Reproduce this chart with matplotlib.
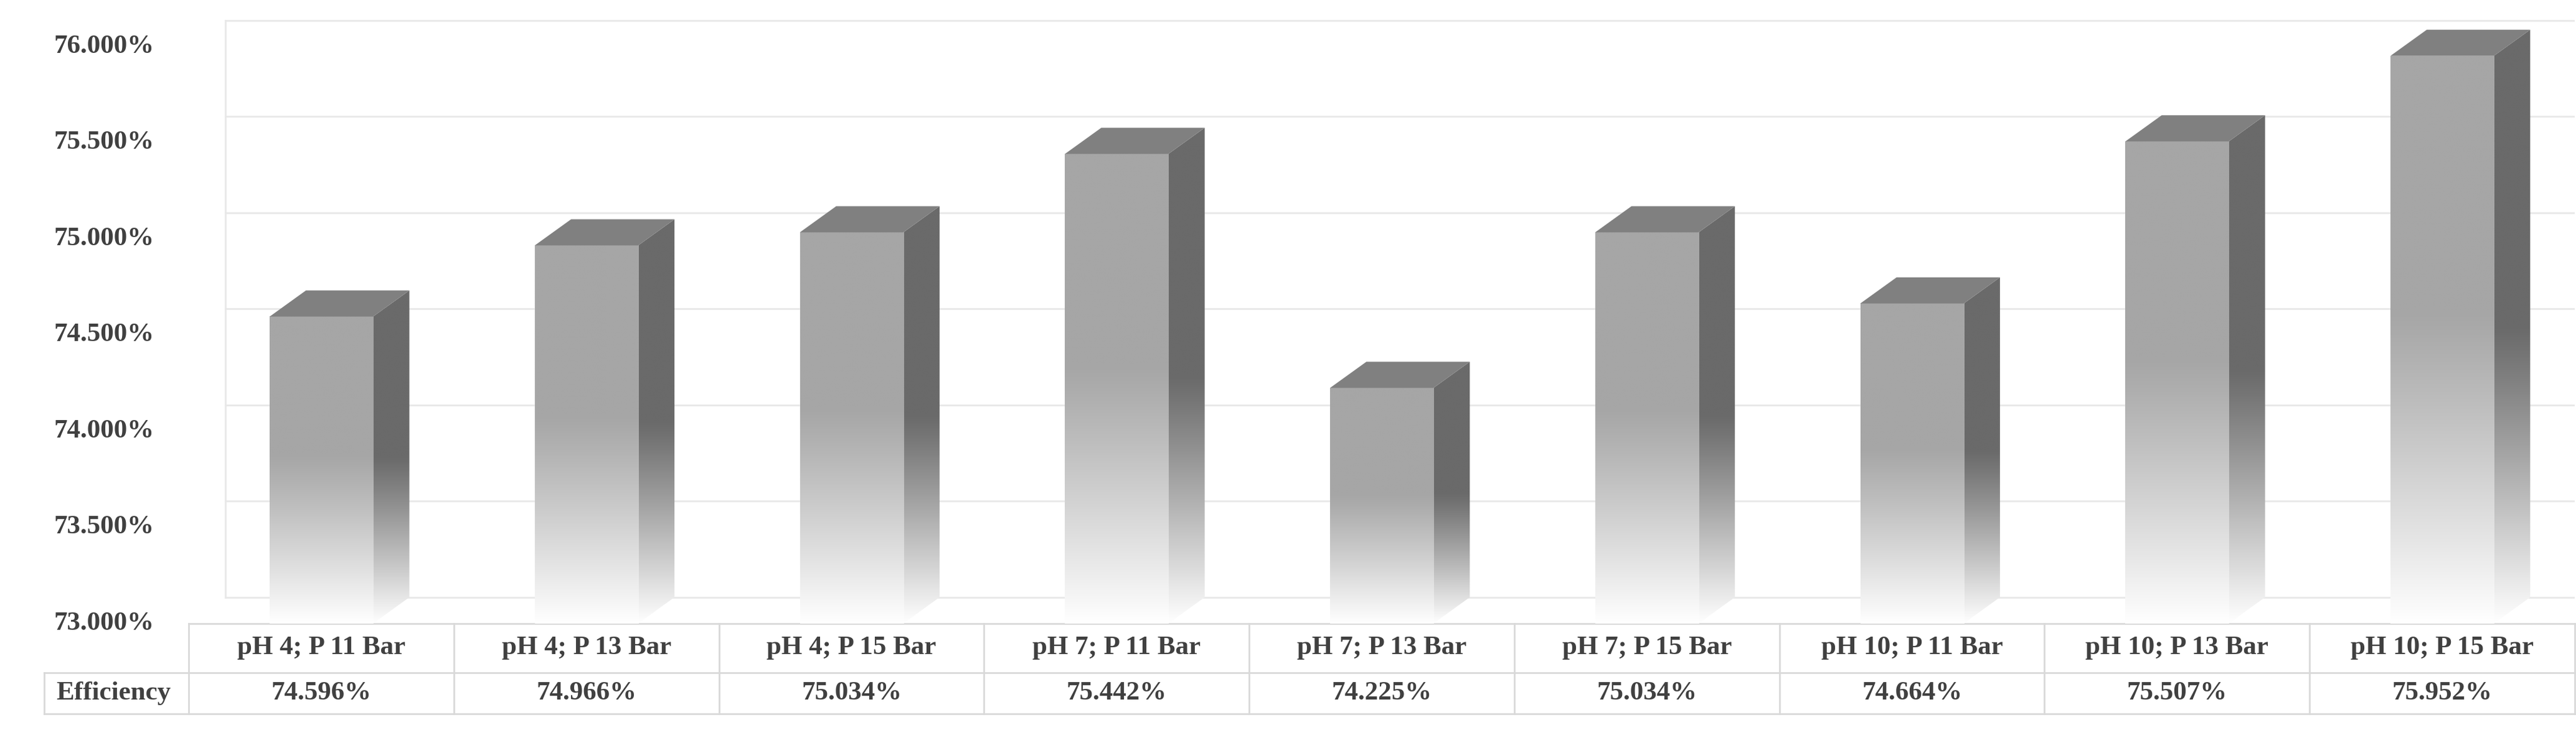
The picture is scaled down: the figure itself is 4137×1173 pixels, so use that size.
import numpy as np
import matplotlib
matplotlib.use("Agg")
import matplotlib.pyplot as plt
from matplotlib.patches import Polygon
import matplotlib.transforms as mtransforms

categories = ["pH 4; P 11 Bar", "pH 4; P 13 Bar", "pH 4; P 15 Bar",
              "pH 7; P 11 Bar", "pH 7; P 13 Bar", "pH 7; P 15 Bar",
              "pH 10; P 11 Bar", "pH 10; P 13 Bar", "pH 10; P 15 Bar"]
efficiency = [74.596, 74.966, 75.034, 75.442, 74.225, 75.034, 74.664, 75.507, 75.952]
yticks = [73.0, 73.5, 74.0, 74.5, 75.0, 75.5, 76.0]
row_label = "Efficiency"

plt.rcParams['font.family'] = ['Liberation Serif', 'DejaVu Serif']
txt = '#404040'
fig = plt.figure(figsize=(41.37, 11.73), dpi=100)
ax = fig.add_axes([0.0733, 0.146, 0.9262, 0.827])
ymin, ymax = 73.0, 76.14
ax.set_xlim(0, 9)
ax.set_ylim(ymin, ymax)
ax.axis('off')

dx, dy = 0.137, 0.136
w = 0.39

# back-wall gridlines
for t in yticks:
    ax.plot([dx, 9], [t + dy, t + dy], color='#e8e8e8', lw=2, zorder=0)
    ax.text(-0.13, t, f"{t:.3f}%", ha='right', va='center', fontsize=31,
            fontweight='bold', color=txt, transform=ax.transData, clip_on=False)
ax.plot([dx, dx], [ymin + dy, ymax], color='#e8e8e8', lw=2, zorder=0)

def grad(c, n=256, flat=0.45):
    c = np.array(matplotlib.colors.to_rgb(c))
    f = np.linspace(0, 1, n)  # 0 top -> 1 bottom
    a = np.clip((f - flat) / (1 - flat), 0, 1) ** 1.1
    rows = c[None, :] * (1 - a[:, None]) + np.ones(3)[None, :] * a[:, None]
    return rows[:, None, :]

for i, v in enumerate(efficiency):
    x0 = i + 0.5 - w / 2
    x1 = x0 + w
    # side face
    side = Polygon([(x1, ymin), (x1 + dx, ymin + dy), (x1 + dx, v + dy), (x1, v)],
                   closed=True, facecolor='none', edgecolor='none')
    ax.add_patch(side)
    im = ax.imshow(grad('#6a6a6a', flat=0.5), extent=[x1, x1 + dx, ymin, v + dy],
                   aspect='auto', zorder=2, interpolation='bilinear')
    im.set_clip_path(side)
    # front face
    im2 = ax.imshow(grad('#a6a6a6', flat=0.45), extent=[x0, x1, ymin, v],
                    aspect='auto', zorder=3, interpolation='bilinear')
    # top face
    ax.add_patch(Polygon([(x0, v), (x1, v), (x1 + dx, v + dy), (x0 + dx, v + dy)],
                         closed=True, facecolor='#808080', edgecolor='none', zorder=4))

# data table
trans = mtransforms.blended_transform_factory(ax.transData, ax.transAxes)
h1, h2 = 0.0815, 0.068
lc = '#d9d9d9'
kw = dict(color=lc, lw=2, transform=trans, clip_on=False)
ax.plot([0, 9], [0, 0], **kw)
ax.plot([-0.545, 9], [-h1, -h1], **kw)
ax.plot([-0.545, 9], [-h1 - h2, -h1 - h2], **kw)
ax.plot([-0.545, -0.545], [-h1, -h1 - h2], **kw)
for k in range(10):
    ax.plot([k, k], [0, -h1 - h2], **kw)
for i, (c, v) in enumerate(zip(categories, efficiency)):
    ax.text(i + 0.5, -h1 / 2, c, ha='center', va='center', fontsize=31,
            fontweight='bold', color=txt, transform=trans)
    ax.text(i + 0.5, -h1 - h2 / 2, f"{v:.3f}%", ha='center', va='center',
            fontsize=31, fontweight='bold', color=txt, transform=trans)
ax.text(-0.5, -h1 - h2 / 2, row_label, ha='left', va='center', fontsize=31,
        fontweight='bold', color=txt, transform=trans)

fig.savefig("out.png", dpi=100)
